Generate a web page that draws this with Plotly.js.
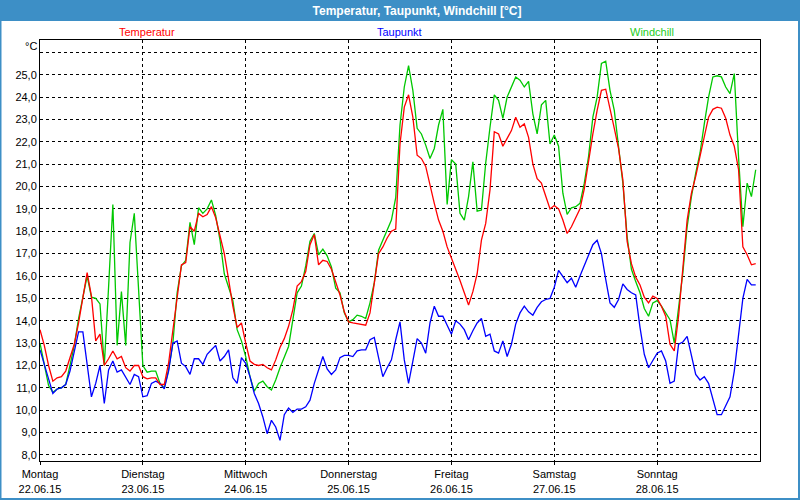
<!DOCTYPE html>
<html>
<head>
<meta charset="utf-8">
<script src="https://cdn.plot.ly/plotly-3.0.1.min.js"></script>
<style>html,body{margin:0;padding:0;background:#fff;}#chart{width:800px;height:500px;}</style>
</head>
<body>
<div id="chart"></div>
<script>
// hourly readings starting Monday 22.06.2015 00:00
const startDate = '2015-06-22';
const temperatur = [
13.6,12.9,12.0,11.3,11.45,11.5,11.75,12.3,12.95,13.9,15.1,16.15,15.1,13.1,13.4,12.0,12.3,12.65,12.3,12.4,11.9,11.75,12.0,12.0,
11.5,11.4,11.45,11.45,11.15,11.15,12.1,13.6,15.1,16.5,16.6,18.2,18.0,18.8,18.65,18.75,19.1,18.6,17.8,17.0,15.85,14.65,13.7,13.9,
13.0,12.2,12.05,12.0,12.05,11.9,11.8,12.25,12.8,13.2,13.75,14.5,15.55,15.75,16.2,17.4,17.85,16.5,16.7,16.65,16.3,15.7,15.15,14.4,
13.95,13.9,13.87,13.85,13.8,14.35,15.7,17.0,17.3,17.7,18.0,18.1,21.9,23.55,24.1,23.1,21.4,21.25,20.9,20.0,19.25,18.5,18.0,17.3,
16.8,16.35,15.8,15.25,14.7,15.3,16.1,17.6,18.35,19.85,22.45,22.35,21.8,22.15,22.5,23.1,22.65,22.8,22.2,21.0,20.35,20.15,19.6,19.0,
19.15,19.0,18.5,17.9,18.2,18.6,19.0,19.9,21.2,22.35,23.4,24.3,24.35,23.4,22.6,21.7,20.3,17.55,16.55,15.95,15.6,15.05,14.8,15.1,
15.0,14.65,14.2,12.95,12.65,14.2,16.45,18.5,19.7,20.45,21.35,22.3,23.1,23.45,23.55,23.5,23.05,22.3,21.8,20.75,17.3,16.95,16.5,16.55
];
const taupunkt = [
12.7,12.1,11.4,10.75,10.95,11.0,11.15,11.75,12.6,13.5,13.5,12.1,10.6,11.2,12.0,10.3,11.8,12.2,11.7,11.8,11.5,11.15,11.6,11.5,
10.6,10.65,11.2,11.3,11.2,10.95,11.75,13.0,13.1,12.1,11.95,11.6,12.3,12.3,12.05,12.5,12.7,12.9,12.2,12.4,12.7,11.45,11.2,12.35,
12.1,11.5,10.75,10.3,9.7,8.95,9.55,9.25,8.65,9.8,10.1,9.9,10.05,10.05,10.15,10.45,11.2,11.8,12.4,11.85,11.6,11.8,12.35,12.45,
12.45,12.4,12.65,12.7,12.7,13.15,13.25,12.35,11.5,11.9,12.25,13.15,13.95,12.25,11.2,12.2,13.2,13.0,12.55,13.9,14.65,14.2,14.2,13.8,
13.4,14.0,13.85,13.6,13.15,13.55,13.9,14.1,13.3,13.4,12.65,12.55,13.1,12.4,12.95,13.85,14.35,14.65,14.4,14.25,14.6,14.85,14.95,15.0,
15.5,16.25,16.0,15.7,15.9,15.5,16.0,16.45,16.9,17.4,17.6,17.0,15.85,14.8,14.6,14.95,15.65,15.4,15.25,15.15,13.7,12.5,11.9,12.2,
12.55,12.65,12.2,11.2,11.3,12.95,13.05,13.3,12.5,11.6,11.35,11.5,11.2,10.5,9.8,9.8,10.2,10.6,11.75,13.45,15.0,15.85,15.6,15.6
];
const windchill = [
13.0,12.0,11.1,10.8,10.95,11.0,11.15,12.0,12.9,14.1,15.1,16.0,15.05,15.0,14.75,12.0,15.5,19.2,12.9,15.3,12.9,17.5,18.8,15.4,
12.0,11.7,11.75,11.75,11.2,11.0,11.8,13.0,15.25,16.45,16.7,18.4,17.4,19.05,18.8,19.0,19.4,18.7,17.6,16.1,15.5,14.9,13.6,13.1,
12.4,11.5,10.85,11.2,11.3,11.05,10.9,11.35,11.9,12.4,12.85,14.05,15.25,15.55,16.45,17.55,17.9,16.95,17.2,16.9,16.4,15.45,15.25,14.35,
13.95,14.05,14.25,14.2,14.1,14.8,15.7,17.15,17.6,18.05,18.5,19.5,22.75,24.45,25.4,24.3,22.6,22.35,21.85,21.25,21.7,22.75,23.45,19.2,
21.2,21.0,18.8,18.5,19.55,21.1,18.9,18.95,21.05,22.65,24.1,23.85,23.05,24.0,24.45,24.9,24.75,24.45,24.7,23.25,22.35,23.65,23.85,21.9,
22.3,21.8,19.7,18.75,19.05,19.1,19.25,20.15,21.35,23.1,24.0,25.5,25.6,24.3,23.4,21.75,20.15,17.75,16.3,15.75,15.25,14.55,14.2,14.8,
14.9,14.65,14.35,14.05,13.0,14.65,16.15,18.2,19.55,20.6,21.5,22.8,24.0,24.9,24.95,24.9,24.45,24.15,25.05,21.3,18.2,20.15,19.55,20.75
];
const dayDates = ['2015-06-22','2015-06-23','2015-06-24','2015-06-25','2015-06-26','2015-06-27','2015-06-28'];
const dayNames = ['Montag','Dienstag','Mittwoch','Donnerstag','Freitag','Samstag','Sonntag'];
const dayLabels = ['22.06.15','23.06.15','24.06.15','25.06.15','26.06.15','27.06.15','28.06.15'];
const yTicks = [8,9,10,11,12,13,14,15,16,17,18,19,20,21,22,23,24,25,26];

const t0 = Date.parse(startDate + 'T00:00:00Z');
const times = temperatur.map((_, i) => new Date(t0 + i * 3600000).toISOString().slice(0,16).replace('T',' '));

const font = 'Liberation Sans, Arial, sans-serif';
const traces = [
  {x: times, y: windchill, name: 'Windchill', mode: 'lines', line: {color: '#00C800', width: 1.3}},
  {x: times, y: taupunkt, name: 'Taupunkt', mode: 'lines', line: {color: '#0000FF', width: 1.3}},
  {x: times, y: temperatur, name: 'Temperatur', mode: 'lines', line: {color: '#FF0000', width: 1.3}}
];

const L = 40, R = 40, T = 40, B = 39, W = 800, H = 500;
const pw = W - L - R, ph = H - T - B;
const px = v => (v - L) / pw;
const py = v => (H - B - v) / ph;

const layout = {
  width: W, height: H,
  margin: {l: L, r: R, t: T, b: B, pad: 0},
  paper_bgcolor: '#3D8FC6',
  plot_bgcolor: '#FFFFFF',
  showlegend: false,
  font: {family: font, size: 11, color: '#000'},
  title: {text: '<b>Temperatur, Taupunkt, Windchill [°C]</b>', x: 417/800, xanchor: 'center', y: 1 - 10.5/500, yanchor: 'middle',
          font: {family: font, size: 12, color: '#FFFFFF'}},
  xaxis: {
    type: 'date', range: ['2015-06-22 00:00', '2015-06-29 00:00'],
    tickvals: dayDates, ticktext: dayNames.map((d, i) => d + '<br>' + dayLabels[i]),
    showgrid: true, gridcolor: '#000', gridwidth: 1, griddash: '3px,3px',
    showline: true, linecolor: '#000', linewidth: 1, mirror: true,
    ticks: 'outside', ticklen: 3, tickcolor: '#000',
    tickfont: {family: font, size: 11, color: '#000'}, zeroline: false, fixedrange: true
  },
  yaxis: {
    range: [7.73, 26.55],
    tickvals: yTicks, ticktext: yTicks.map(v => v === 26 ? '' : v.toFixed(1).replace('.', ',')),
    showgrid: true, gridcolor: '#000', gridwidth: 1, griddash: '3px,3px',
    showline: true, linecolor: '#000', linewidth: 1, mirror: true,
    ticks: '', tickfont: {family: font, size: 11, color: '#000'}, zeroline: false, fixedrange: true
  },
  shapes: [
    {type: 'rect', xref: 'paper', yref: 'paper', layer: 'below',
     x0: px(1.5), x1: px(798), y0: py(498), y1: py(21), fillcolor: '#FFFFFF', line: {width: 0}}
  ],
  annotations: [
    {text: 'Temperatur', xref: 'paper', yref: 'paper', x: px(147), y: py(32), showarrow: false, xanchor: 'center', yanchor: 'middle', font: {family: font, size: 11, color: '#FF0000'}},
    {text: 'Taupunkt', xref: 'paper', yref: 'paper', x: px(399), y: py(32), showarrow: false, xanchor: 'center', yanchor: 'middle', font: {family: font, size: 11, color: '#0000FF'}},
    {text: 'Windchill', xref: 'paper', yref: 'paper', x: px(652), y: py(32), showarrow: false, xanchor: 'center', yanchor: 'middle', font: {family: font, size: 11, color: '#22CC22'}},
    {text: '°C', xref: 'paper', yref: 'paper', x: px(31), y: py(46), showarrow: false, xanchor: 'center', yanchor: 'middle', font: {family: font, size: 11, color: '#000'}}
  ]
};

Plotly.newPlot('chart', traces, layout, {displayModeBar: false, staticPlot: true});
</script>
</body>
</html>
